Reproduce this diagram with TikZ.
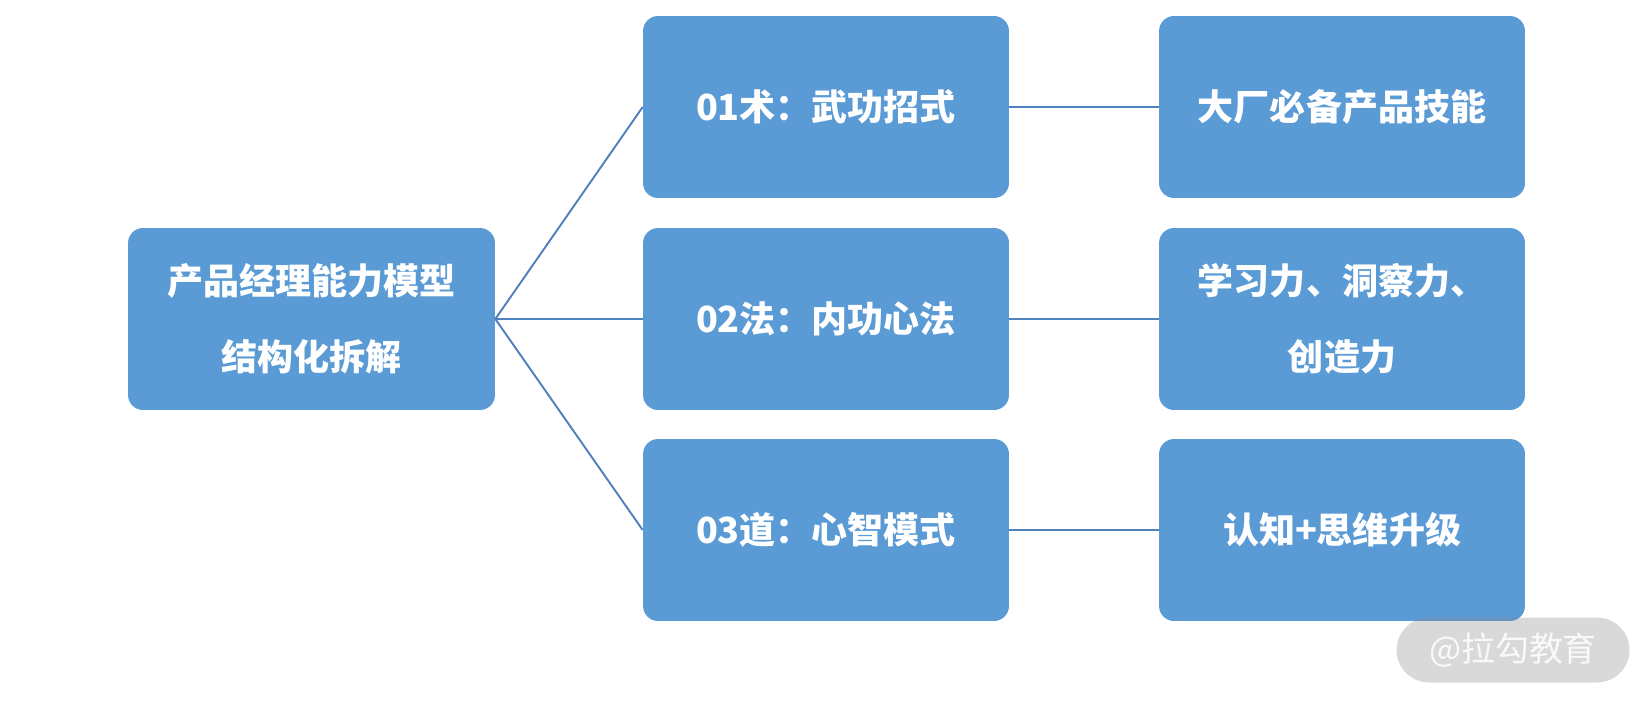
\documentclass[tikz,border=0pt]{standalone}
\usepackage{fontspec}
\newfontfamily\cjk{Noto Sans CJK SC}
\definecolor{boxblue}{HTML}{5B9BD5}
\definecolor{linkblue}{HTML}{4F81BD}
\definecolor{markgray}{HTML}{808080}
\tikzset{
  card/.style={fill=boxblue, rounded corners=0.3cm, minimum width=7.32cm,
    minimum height=3.64cm, inner sep=0pt, text=white, align=center,
    font=\cjk\bfseries\fontsize{20.5}{43}\selectfont},
  link/.style={draw=linkblue, line width=1.1pt},
  watermark/.style={fill=markgray, fill opacity=0.3, text=white, text opacity=0.85,
    rounded corners=0.65cm, minimum width=4.66cm, minimum height=1.3cm, inner sep=0pt,
    font=\cjk\fontsize{19.3}{23}\selectfont}
}
\begin{document}
\begin{tikzpicture}[x=0.02cm, y=-0.02cm]
  \useasboundingbox (0,0) rectangle (1652,706);

  % Root
  \node[card, minimum width=7.34cm] (model) at (311.5,319) {产品经理能力模型\\结构化拆解};

  % Levels
  \node[card] (shu) at (826,107) {01术：武功招式};
  \node[card] (fa)  at (826,319) {02法：内功心法};
  \node[card] (dao) at (826,530) {03道：心智模式};

  % Outcomes
  \node[card] (skill) at (1342,107) {大厂必备产品技能};
  \node[card] (power) at (1342,319) {学习力、洞察力、\\创造力};
  \node[card] (mind)  at (1342,530) {认知+思维升级};

  % Links
  \foreach \a/\b in {model/shu, model/fa, model/dao, shu/skill, fa/power, dao/mind} {
    \draw[link] (\a.east) -- (\b.west);
  }

  % Watermark
  \node[watermark] (mark) at (1513,650) {@拉勾教育};
\end{tikzpicture}
\end{document}
